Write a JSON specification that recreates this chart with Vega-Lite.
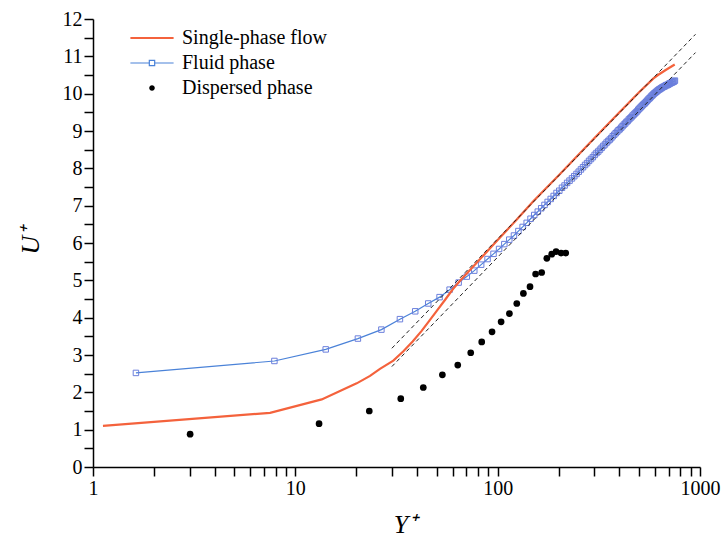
{
  "$schema": "https://vega.github.io/schema/vega-lite/v6.json",
  "width": 607,
  "height": 448,
  "autosize": "none",
  "padding": {"left": 93, "top": 19, "right": 22, "bottom": 72},
  "background": "white",
  "config": {
    "view": {"stroke": null},
    "font": "Liberation Serif",
    "axis": {
      "domainColor": "black", "domainWidth": 1.5, "tickColor": "black", "tickWidth": 1.5,
      "labelFont": "Liberation Serif", "labelFontSize": 20, "labelColor": "black",
      "titleFont": "Liberation Serif", "titleFontSize": 26, "titleFontStyle": "italic",
      "titleFontWeight": "normal", "titleColor": "black", "grid": false, "tickSize": 9, "labelPadding": 2
    }
  },
  "datasets": {
    "orange": [
      {"series": "Single-phase flow", "x": 1.12, "y": 1.10},
      {"series": "Single-phase flow", "x": 7.5, "y": 1.45},
      {"series": "Single-phase flow", "x": 13.5, "y": 1.81},
      {"series": "Single-phase flow", "x": 20.1, "y": 2.24},
      {"series": "Single-phase flow", "x": 23.4, "y": 2.44},
      {"series": "Single-phase flow", "x": 26.2, "y": 2.63},
      {"series": "Single-phase flow", "x": 30.5, "y": 2.85},
      {"series": "Single-phase flow", "x": 34.2, "y": 3.10},
      {"series": "Single-phase flow", "x": 38, "y": 3.36},
      {"series": "Single-phase flow", "x": 42, "y": 3.64},
      {"series": "Single-phase flow", "x": 46, "y": 3.92},
      {"series": "Single-phase flow", "x": 50, "y": 4.18},
      {"series": "Single-phase flow", "x": 55, "y": 4.48},
      {"series": "Single-phase flow", "x": 60, "y": 4.76},
      {"series": "Single-phase flow", "x": 65, "y": 4.98},
      {"series": "Single-phase flow", "x": 70, "y": 5.17},
      {"series": "Single-phase flow", "x": 81.9, "y": 5.57},
      {"series": "Single-phase flow", "x": 100, "y": 6.08},
      {"series": "Single-phase flow", "x": 124, "y": 6.62},
      {"series": "Single-phase flow", "x": 150, "y": 7.12},
      {"series": "Single-phase flow", "x": 200, "y": 7.81},
      {"series": "Single-phase flow", "x": 297, "y": 8.78},
      {"series": "Single-phase flow", "x": 400, "y": 9.50},
      {"series": "Single-phase flow", "x": 500, "y": 10.04},
      {"series": "Single-phase flow", "x": 589, "y": 10.41},
      {"series": "Single-phase flow", "x": 620, "y": 10.50},
      {"series": "Single-phase flow", "x": 680, "y": 10.64},
      {"series": "Single-phase flow", "x": 750, "y": 10.78}
    ],
    "fluid": [
      {"series": "Fluid phase", "x": 1.63, "y": 2.52},
      {"series": "Fluid phase", "x": 7.88, "y": 2.84},
      {"series": "Fluid phase", "x": 14.13, "y": 3.15},
      {"series": "Fluid phase", "x": 20.38, "y": 3.44},
      {"series": "Fluid phase", "x": 26.63, "y": 3.68},
      {"series": "Fluid phase", "x": 32.88, "y": 3.96},
      {"series": "Fluid phase", "x": 39.13, "y": 4.17},
      {"series": "Fluid phase", "x": 45.38, "y": 4.38},
      {"series": "Fluid phase", "x": 51.63, "y": 4.55},
      {"series": "Fluid phase", "x": 57.88, "y": 4.75},
      {"series": "Fluid phase", "x": 64.13, "y": 4.94},
      {"series": "Fluid phase", "x": 70.38, "y": 5.10},
      {"series": "Fluid phase", "x": 76.63, "y": 5.26},
      {"series": "Fluid phase", "x": 82.88, "y": 5.42},
      {"series": "Fluid phase", "x": 89.13, "y": 5.57},
      {"series": "Fluid phase", "x": 95.38, "y": 5.71},
      {"series": "Fluid phase", "x": 101.63, "y": 5.84},
      {"series": "Fluid phase", "x": 107.88, "y": 5.97},
      {"series": "Fluid phase", "x": 114.13, "y": 6.09},
      {"series": "Fluid phase", "x": 120.38, "y": 6.20},
      {"series": "Fluid phase", "x": 126.63, "y": 6.32},
      {"series": "Fluid phase", "x": 132.88, "y": 6.43},
      {"series": "Fluid phase", "x": 139.13, "y": 6.54},
      {"series": "Fluid phase", "x": 145.38, "y": 6.65},
      {"series": "Fluid phase", "x": 151.63, "y": 6.75},
      {"series": "Fluid phase", "x": 157.88, "y": 6.84},
      {"series": "Fluid phase", "x": 164.13, "y": 6.93},
      {"series": "Fluid phase", "x": 170.38, "y": 7.02},
      {"series": "Fluid phase", "x": 176.63, "y": 7.10},
      {"series": "Fluid phase", "x": 182.88, "y": 7.18},
      {"series": "Fluid phase", "x": 189.13, "y": 7.26},
      {"series": "Fluid phase", "x": 195.38, "y": 7.34},
      {"series": "Fluid phase", "x": 201.63, "y": 7.40},
      {"series": "Fluid phase", "x": 207.88, "y": 7.48},
      {"series": "Fluid phase", "x": 214.13, "y": 7.54},
      {"series": "Fluid phase", "x": 220.38, "y": 7.61},
      {"series": "Fluid phase", "x": 226.63, "y": 7.67},
      {"series": "Fluid phase", "x": 232.88, "y": 7.73},
      {"series": "Fluid phase", "x": 239.13, "y": 7.79},
      {"series": "Fluid phase", "x": 245.38, "y": 7.85},
      {"series": "Fluid phase", "x": 251.63, "y": 7.91},
      {"series": "Fluid phase", "x": 257.88, "y": 7.97},
      {"series": "Fluid phase", "x": 264.13, "y": 8.03},
      {"series": "Fluid phase", "x": 270.38, "y": 8.09},
      {"series": "Fluid phase", "x": 276.63, "y": 8.14},
      {"series": "Fluid phase", "x": 282.88, "y": 8.20},
      {"series": "Fluid phase", "x": 289.13, "y": 8.25},
      {"series": "Fluid phase", "x": 295.38, "y": 8.30},
      {"series": "Fluid phase", "x": 301.63, "y": 8.36},
      {"series": "Fluid phase", "x": 307.88, "y": 8.41},
      {"series": "Fluid phase", "x": 314.13, "y": 8.45},
      {"series": "Fluid phase", "x": 320.38, "y": 8.50},
      {"series": "Fluid phase", "x": 326.63, "y": 8.55},
      {"series": "Fluid phase", "x": 332.88, "y": 8.60},
      {"series": "Fluid phase", "x": 339.13, "y": 8.64},
      {"series": "Fluid phase", "x": 345.38, "y": 8.69},
      {"series": "Fluid phase", "x": 351.63, "y": 8.73},
      {"series": "Fluid phase", "x": 357.88, "y": 8.77},
      {"series": "Fluid phase", "x": 364.13, "y": 8.81},
      {"series": "Fluid phase", "x": 370.38, "y": 8.86},
      {"series": "Fluid phase", "x": 376.63, "y": 8.90},
      {"series": "Fluid phase", "x": 382.88, "y": 8.94},
      {"series": "Fluid phase", "x": 389.13, "y": 8.98},
      {"series": "Fluid phase", "x": 395.38, "y": 9.02},
      {"series": "Fluid phase", "x": 401.63, "y": 9.05},
      {"series": "Fluid phase", "x": 407.88, "y": 9.09},
      {"series": "Fluid phase", "x": 414.13, "y": 9.13},
      {"series": "Fluid phase", "x": 420.38, "y": 9.17},
      {"series": "Fluid phase", "x": 426.63, "y": 9.20},
      {"series": "Fluid phase", "x": 432.88, "y": 9.24},
      {"series": "Fluid phase", "x": 439.13, "y": 9.27},
      {"series": "Fluid phase", "x": 445.38, "y": 9.31},
      {"series": "Fluid phase", "x": 451.63, "y": 9.34},
      {"series": "Fluid phase", "x": 457.88, "y": 9.37},
      {"series": "Fluid phase", "x": 464.13, "y": 9.41},
      {"series": "Fluid phase", "x": 470.38, "y": 9.44},
      {"series": "Fluid phase", "x": 476.63, "y": 9.47},
      {"series": "Fluid phase", "x": 482.88, "y": 9.50},
      {"series": "Fluid phase", "x": 489.13, "y": 9.53},
      {"series": "Fluid phase", "x": 495.38, "y": 9.57},
      {"series": "Fluid phase", "x": 501.63, "y": 9.60},
      {"series": "Fluid phase", "x": 507.88, "y": 9.63},
      {"series": "Fluid phase", "x": 514.13, "y": 9.66},
      {"series": "Fluid phase", "x": 520.38, "y": 9.69},
      {"series": "Fluid phase", "x": 526.63, "y": 9.72},
      {"series": "Fluid phase", "x": 532.88, "y": 9.74},
      {"series": "Fluid phase", "x": 539.13, "y": 9.77},
      {"series": "Fluid phase", "x": 545.38, "y": 9.80},
      {"series": "Fluid phase", "x": 551.63, "y": 9.83},
      {"series": "Fluid phase", "x": 557.88, "y": 9.86},
      {"series": "Fluid phase", "x": 564.13, "y": 9.88},
      {"series": "Fluid phase", "x": 570.38, "y": 9.91},
      {"series": "Fluid phase", "x": 576.63, "y": 9.94},
      {"series": "Fluid phase", "x": 582.88, "y": 9.96},
      {"series": "Fluid phase", "x": 589.13, "y": 9.99},
      {"series": "Fluid phase", "x": 595.38, "y": 10.01},
      {"series": "Fluid phase", "x": 601.63, "y": 10.03},
      {"series": "Fluid phase", "x": 607.88, "y": 10.05},
      {"series": "Fluid phase", "x": 614.13, "y": 10.07},
      {"series": "Fluid phase", "x": 620.38, "y": 10.09},
      {"series": "Fluid phase", "x": 626.63, "y": 10.11},
      {"series": "Fluid phase", "x": 632.88, "y": 10.12},
      {"series": "Fluid phase", "x": 639.13, "y": 10.14},
      {"series": "Fluid phase", "x": 645.38, "y": 10.15},
      {"series": "Fluid phase", "x": 651.63, "y": 10.17},
      {"series": "Fluid phase", "x": 657.88, "y": 10.18},
      {"series": "Fluid phase", "x": 664.13, "y": 10.19},
      {"series": "Fluid phase", "x": 670.38, "y": 10.20},
      {"series": "Fluid phase", "x": 676.63, "y": 10.22},
      {"series": "Fluid phase", "x": 682.88, "y": 10.23},
      {"series": "Fluid phase", "x": 689.13, "y": 10.23},
      {"series": "Fluid phase", "x": 695.38, "y": 10.24},
      {"series": "Fluid phase", "x": 701.63, "y": 10.26},
      {"series": "Fluid phase", "x": 707.88, "y": 10.27},
      {"series": "Fluid phase", "x": 714.13, "y": 10.28},
      {"series": "Fluid phase", "x": 720.38, "y": 10.29},
      {"series": "Fluid phase", "x": 726.63, "y": 10.30},
      {"series": "Fluid phase", "x": 732.88, "y": 10.31},
      {"series": "Fluid phase", "x": 739.13, "y": 10.32},
      {"series": "Fluid phase", "x": 745.38, "y": 10.33},
      {"series": "Fluid phase", "x": 751.63, "y": 10.35}
    ],
    "dots": [
      {"series": "Dispersed phase", "x": 3.02, "y": 0.88},
      {"series": "Dispersed phase", "x": 13.1, "y": 1.16},
      {"series": "Dispersed phase", "x": 23.2, "y": 1.50},
      {"series": "Dispersed phase", "x": 33.2, "y": 1.83},
      {"series": "Dispersed phase", "x": 42.9, "y": 2.13},
      {"series": "Dispersed phase", "x": 53.3, "y": 2.47},
      {"series": "Dispersed phase", "x": 63.5, "y": 2.73},
      {"series": "Dispersed phase", "x": 73.6, "y": 3.06},
      {"series": "Dispersed phase", "x": 83.4, "y": 3.35},
      {"series": "Dispersed phase", "x": 93.8, "y": 3.62},
      {"series": "Dispersed phase", "x": 104, "y": 3.89},
      {"series": "Dispersed phase", "x": 114.3, "y": 4.11},
      {"series": "Dispersed phase", "x": 124.3, "y": 4.38},
      {"series": "Dispersed phase", "x": 134, "y": 4.65},
      {"series": "Dispersed phase", "x": 144.5, "y": 4.83},
      {"series": "Dispersed phase", "x": 154, "y": 5.17},
      {"series": "Dispersed phase", "x": 165, "y": 5.21},
      {"series": "Dispersed phase", "x": 175, "y": 5.59},
      {"series": "Dispersed phase", "x": 185, "y": 5.70},
      {"series": "Dispersed phase", "x": 194.4, "y": 5.77},
      {"series": "Dispersed phase", "x": 205.8, "y": 5.73},
      {"series": "Dispersed phase", "x": 217, "y": 5.73}
    ],
    "dash": [
      {"id": "upper", "x": 30, "y": 3.18},
      {"id": "upper", "x": 950, "y": 11.59},
      {"id": "lower", "x": 30, "y": 2.69},
      {"id": "lower", "x": 950, "y": 11.10}
    ]
  },
  "encoding": {
    "x": {
      "field": "x", "type": "quantitative",
      "scale": {"type": "log", "domain": [1, 1000], "nice": false},
      "axis": {
        "values": [1,2,3,4,5,6,7,8,9,10,20,30,40,50,60,70,80,90,100,200,300,400,500,600,700,800,900,1000],
        "labelExpr": "(datum.value==1||datum.value==10||datum.value==100||datum.value==1000) ? format(datum.value,'d') : ''",
        "labelOverlap": false, "labelFlush": false,
        "title": "Y⁺", "titleX": 312, "titleY": 57, "titleBaseline": "middle", "titleAlign": "center",
        "encode": {"ticks": {"update": {"y2": {"signal": "(datum.value==1||datum.value==10||datum.value==100||datum.value==1000) ? 9 : 5"}}}}
      }
    },
    "y": {
      "field": "y", "type": "quantitative",
      "scale": {"domain": [0, 12], "nice": false, "zero": false},
      "axis": {
        "values": [0,0.5,1,1.5,2,2.5,3,3.5,4,4.5,5,5.5,6,6.5,7,7.5,8,8.5,9,9.5,10,10.5,11,11.5,12],
        "labelExpr": "datum.value % 1 == 0 ? format(datum.value,'d') : ''",
        "labelOverlap": false, "labelFlush": false,
        "title": "U⁺", "titleX": -63, "titleY": 221, "titleAngle": 270, "titleBaseline": "middle", "titleAlign": "center",
        "encode": {"ticks": {"update": {"x2": {"signal": "datum.value % 1 == 0 ? -9 : -5"}}}}
      }
    }
  },
  "layer": [
    {
      "data": {"name": "fluid"},
      "mark": {"type": "line", "strokeWidth": 1.2},
      "encoding": {
        "color": {
          "field": "series", "type": "nominal",
          "scale": {"domain": ["Single-phase flow", "Fluid phase", "Dispersed phase"], "range": ["#f4623c", "#4a82d8", "black"]},
          "legend": {
            "orient": "none", "legendX": 49, "legendY": 9, "title": null,
            "labelFont": "Liberation Serif", "labelFontSize": 20, "labelColor": "black",
            "labelOffset": 20, "symbolSize": 64, "rowPadding": 5, "padding": 0, "labelLimit": 300,
            "encode": {
              "symbols": {
                "update": {
                  "shape": {"signal": "datum.value === 'Fluid phase' ? 'M-5.4,0L-0.67,0M0.67,0L5.4,0M-0.67,-0.67L0.67,-0.67L0.67,0.67L-0.67,0.67Z' : datum.value === 'Dispersed phase' ? 'M0.7,0A0.7,0.7,0,1,1,-0.7,0A0.7,0.7,0,1,1,0.7,0Z' : 'M-5.4,0L5.4,0'"},
                  "fill": {"signal": "datum.value === 'Dispersed phase' ? 'black' : 'transparent'"},
                  "stroke": {"signal": "datum.value === 'Single-phase flow' ? '#f4623c' : datum.value === 'Fluid phase' ? '#5b84dc' : 'transparent'"},
                  "strokeWidth": {"signal": "datum.value === 'Single-phase flow' ? 2.2 : datum.value === 'Fluid phase' ? 1.2 : 0"},
                  "opacity": {"value": 1}
                }
              }
            }
          }
        }
      }
    },
    {
      "data": {"name": "fluid"},
      "mark": {"type": "point", "shape": "square", "filled": false, "size": 30, "stroke": "#6b7fdc", "strokeWidth": 1, "opacity": 1}
    },
    {
      "data": {"name": "orange"},
      "mark": {"type": "line", "strokeWidth": 2.2},
      "encoding": {
        "color": {
          "field": "series", "type": "nominal",
          "scale": {"domain": ["Single-phase flow", "Fluid phase", "Dispersed phase"], "range": ["#f4623c", "#4a82d8", "black"]}
        }
      }
    },
    {
      "data": {"name": "dots"},
      "mark": {"type": "point", "shape": "circle", "filled": true, "size": 45, "color": "black", "opacity": 1}
    },
    {
      "data": {"name": "dash"},
      "mark": {"type": "line", "color": "#222222", "strokeWidth": 1, "strokeDash": [4, 3]},
      "encoding": {"detail": {"field": "id", "type": "nominal"}}
    }
  ]
}
